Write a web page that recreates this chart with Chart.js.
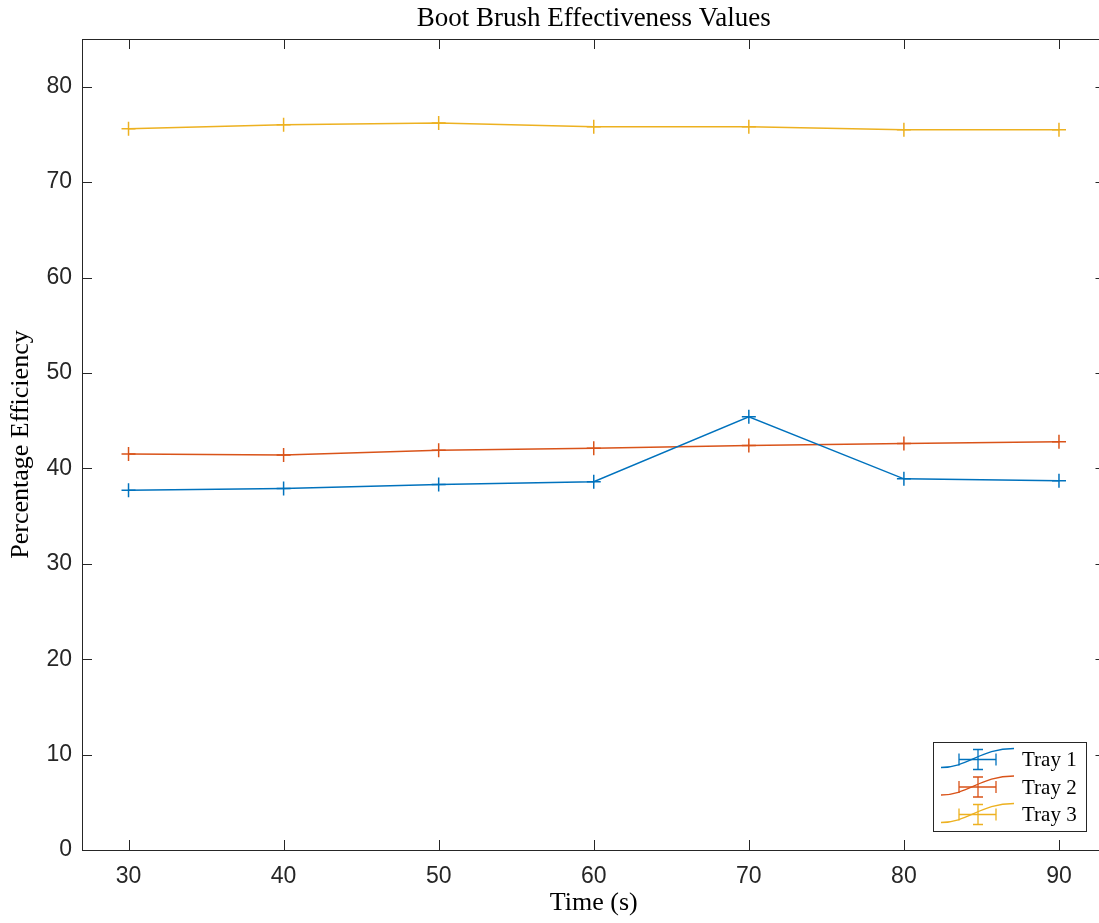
<!DOCTYPE html>
<html><head><meta charset="utf-8">
<script src="https://cdn.jsdelivr.net/npm/chart.js@4"></script>
<style>
html,body{margin:0;padding:0;overflow:hidden;background:#fff}
canvas{display:block}
</style>
</head><body><canvas id="c" width="1114" height="923"></canvas>
<script>
const times = [30, 40, 50, 60, 70, 80, 90];
const tray1 = [37.7, 37.9, 38.3, 38.6, 45.4, 38.9, 38.7];
const tray2 = [41.5, 41.4, 41.9, 42.1, 42.4, 42.6, 42.8];
const tray3 = [75.6, 76.0, 76.2, 75.8, 75.8, 75.5, 75.5];
const seriesNames = ['Tray 1', 'Tray 2', 'Tray 3'];
const seriesColors = ['#0072BD', '#D95319', '#EDB120'];
const xTicks = [30, 40, 50, 60, 70, 80, 90];
const yTicks = [0, 10, 20, 30, 40, 50, 60, 70, 80];
const titleText = 'Boot Brush Effectiveness Values';
const xLabel = 'Time (s)';
const yLabel = 'Percentage Efficiency';

const seriesValues = [tray1, tray2, tray3];
const datasets = seriesValues.map((vals, i) => ({
  label: seriesNames[i],
  data: times.map((t, j) => ({x: t, y: vals[j]})),
  borderColor: seriesColors[i],
  backgroundColor: seriesColors[i],
  borderWidth: 1.5,
  pointStyle: 'cross',
  pointRadius: 7,
  pointBorderWidth: 1.5,
  pointHoverRadius: 7,
  tension: 0,
  fill: false
}));

const AX = '#262626';

const framePlugin = {
  id: 'frame',
  afterDatasetsDraw(chart) {
    const {ctx, chartArea: a, scales} = chart;
    ctx.save();
    ctx.strokeStyle = AX;
    ctx.lineWidth = 1;
    ctx.strokeRect(a.left + 0.5, a.top + 0.5, a.right - a.left, a.bottom - a.top);
    ctx.beginPath();
    xTicks.forEach(v => {
      const px = Math.round(scales.x.getPixelForValue(v)) + 0.5;
      ctx.moveTo(px, a.bottom); ctx.lineTo(px, a.bottom - 10);
      ctx.moveTo(px, a.top); ctx.lineTo(px, a.top + 10);
    });
    yTicks.forEach(v => {
      const py = Math.round(scales.y.getPixelForValue(v)) + 0.5;
      ctx.moveTo(a.left, py); ctx.lineTo(a.left + 10, py);
      ctx.moveTo(a.right, py); ctx.lineTo(a.right - 10, py);
    });
    ctx.stroke();
    ctx.restore();
  },
  afterDraw(chart) {
    const {ctx, chartArea: a} = chart;
    const w = 153, h = 89;
    const bx = Math.round(a.right) - 173, by = a.bottom - 108;
    ctx.save();
    ctx.fillStyle = '#fff';
    ctx.fillRect(bx, by, w, h);
    ctx.strokeStyle = AX;
    ctx.lineWidth = 1;
    ctx.strokeRect(bx + 0.5, by + 0.5, w, h);
    chart.data.datasets.forEach((ds, i) => {
      const cy = by + 17.5 + i * 27.5;
      ctx.strokeStyle = ds.borderColor;
      ctx.lineWidth = 1.3;
      ctx.beginPath();
      ctx.moveTo(bx + 8, cy + 8);
      ctx.bezierCurveTo(bx + 35, cy + 8, bx + 48, cy - 11, bx + 81, cy - 11);
      ctx.stroke();
      const ex = bx + 45;
      ctx.beginPath();
      ctx.moveTo(bx + 26, cy); ctx.lineTo(bx + 63, cy);
      ctx.moveTo(bx + 26, cy - 6); ctx.lineTo(bx + 26, cy + 6);
      ctx.moveTo(bx + 63, cy - 6); ctx.lineTo(bx + 63, cy + 6);
      ctx.moveTo(ex, cy - 10); ctx.lineTo(ex, cy + 10);
      ctx.moveTo(ex - 5, cy - 10); ctx.lineTo(ex + 5, cy - 10);
      ctx.moveTo(ex - 5, cy + 10); ctx.lineTo(ex + 5, cy + 10);
      ctx.stroke();
      ctx.fillStyle = '#000';
      ctx.font = '21px "Liberation Serif", "Times New Roman", serif';
      ctx.textBaseline = 'middle';
      ctx.textAlign = 'left';
      ctx.fillText(ds.label, bx + 89, cy + 1);
    });
    ctx.restore();
  }
};

new Chart(document.getElementById('c'), {
  type: 'line',
  data: {datasets},
  plugins: [framePlugin],
  options: {
    responsive: false,
    animation: false,
    layout: {padding: 0},
    plugins: {
      legend: {display: false},
      tooltip: {enabled: false},
      title: {
        display: true,
        text: titleText,
        fullSize: false,
        color: '#000',
        font: {family: '"Liberation Serif", "Times New Roman", serif', size: 27, weight: 'normal', lineHeight: 1.2},
        padding: {top: 3, bottom: 3.6}
      }
    },
    scales: {
      x: {
        type: 'linear',
        min: 27, max: 93,
        afterBuildTicks(s) { s.ticks = xTicks.map(v => ({value: v})); },
        afterFit(s) { s.height = 73; },
        grid: {display: false, drawTicks: false, tickLength: 0},
        border: {display: false},
        ticks: {color: AX, padding: 13, maxRotation: 0,
          font: {family: '"Liberation Sans", Arial, sans-serif', size: 23}},
        title: {display: true, text: xLabel, color: '#000', padding: {top: 0, bottom: 4},
          font: {family: '"Liberation Serif", "Times New Roman", serif', size: 26}}
      },
      y: {
        type: 'linear',
        min: 0, max: 85,
        afterBuildTicks(s) { s.ticks = yTicks.map(v => ({value: v})); },
        afterFit(s) { s.width = 82; },
        grid: {display: false, drawTicks: false, tickLength: 0},
        border: {display: false},
        ticks: {color: AX, padding: 10,
          font: {family: '"Liberation Sans", Arial, sans-serif', size: 23}},
        title: {display: true, text: yLabel, color: '#000', padding: {top: 6, bottom: 0},
          font: {family: '"Liberation Serif", "Times New Roman", serif', size: 26}}
      }
    }
  }
});
</script>
</body></html>
